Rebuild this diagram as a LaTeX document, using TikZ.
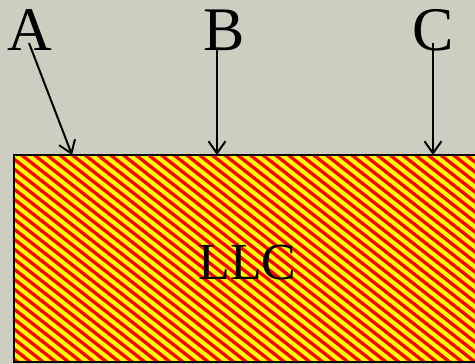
\documentclass[tikz,border=0pt]{standalone}
\usepackage{fontspec}
\setmainfont{Liberation Serif}
\usetikzlibrary{arrows.meta}
\definecolor{bg}{RGB}{205,206,192}
\definecolor{stripered}{RGB}{255,0,0}
\definecolor{stripeyellow}{RGB}{255,255,0}
\tikzset{
  lbl/.style={font=\fontsize{62}{62}\selectfont, inner sep=0pt, anchor=base},
  bigtext/.style={font=\fontsize{52}{52}\selectfont, inner sep=0pt, anchor=base},
  ptr/.style={line width=2pt, -{Straight Barb[length=12pt,width=17pt,line width=2pt]}},
  stripe/.style={stripered, line width=3.3pt}
}
\begin{document}
\begin{tikzpicture}[x=1pt,y=1pt]
\useasboundingbox (0,0) rectangle (475,364);
\fill[bg] (0,0) rectangle (475,364);
% hatched block
\begin{scope}
  \clip (14,2) rectangle (480,209);
  \fill[stripeyellow] (14,2) rectangle (480,209);
  \foreach \i in {-22,...,40} {
    \draw[stripe] (14+12.7*\i,215) -- ++(279.4,-220);
  }
\end{scope}
\draw[line width=2pt] (480,2) -- (14,2) -- (14,209) -- (480,209);
\node[bigtext] (llc) at (247.5,84) {LLC};
% labels
\node[lbl] (A) at (30,313) {A};
\node[lbl] (B) at (224,313) {B};
\node[lbl] (C) at (433.5,313) {C};
\coordinate (As) at (29,321);
\coordinate (Bs) at (217,314);
\coordinate (Cs) at (433,321);
\coordinate (Ae) at (72,209);
\coordinate (Be) at (217,209);
\coordinate (Ce) at (433,209);
\draw[ptr] (As) -- (Ae);
\draw[ptr] (Bs) -- (Be);
\draw[ptr] (Cs) -- (Ce);
\end{tikzpicture}
\end{document}
